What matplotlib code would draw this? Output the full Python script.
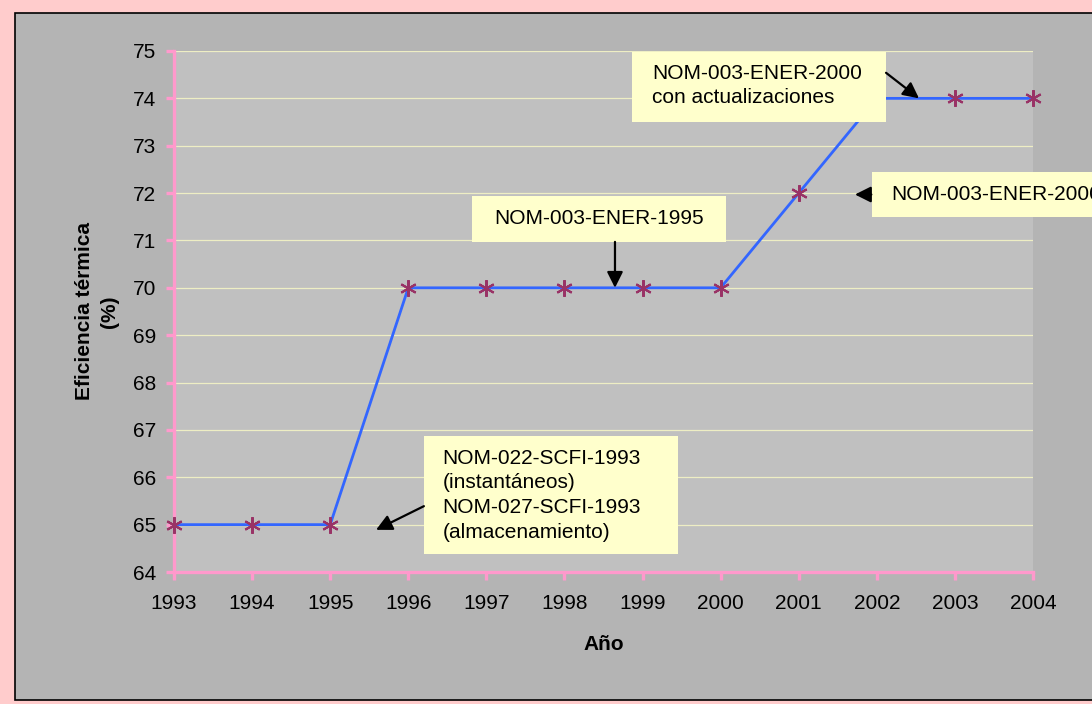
import matplotlib
matplotlib.use("Agg")
import matplotlib.pyplot as plt
from matplotlib.patches import Rectangle

plt.rcParams['font.family'] = ['Liberation Sans', 'DejaVu Sans']

years = [1993, 1994, 1995, 1996, 1997, 1998, 1999, 2000, 2001, 2002, 2003, 2004]
eficiencia = [65, 65, 65, 70, 70, 70, 70, 70, 72, 74, 74, 74]
y_ticks = list(range(64, 76))

# callouts: text, box (x0, y0, x1, y1), text anchor, arrow tail, arrow tip
callouts = [
    ("NOM-003-ENER-2000\ncon actualizaciones", (1998.865, 73.50, 2002.118, 74.98),
     (1999.12, 74.27, 'left'), (2002.118, 74.54), (2002.54, 74.0)),
    ("NOM-003-ENER-1995", (1996.816, 70.97, 2000.069, 71.94),
     (1998.44, 71.47, 'center'), (1998.647, 70.97), (1998.647, 70.0)),
    ("NOM-022-SCFI-1993\n(instantáneos)\nNOM-027-SCFI-1993\n(almacenamiento)",
     (1996.20, 64.38, 1999.45, 66.87),
     (1996.44, 65.62, 'left'), (1996.20, 65.39), (1995.587, 64.89)),
    ("NOM-003-ENER-2000", (2001.94, 71.50, 2004.95, 72.45),
     (2002.19, 71.97, 'left'), (2001.93, 71.97), (2001.72, 71.97)),
]

fig = plt.figure(figsize=(10.92, 7.04), dpi=100)
fig.patch.set_facecolor('#ffcccc')
# grey chart area with a dark frame (runs off the right edge)
fig.patches.append(Rectangle((15 / 1092, 4 / 704), 1.1, 687 / 704,
                             transform=fig.transFigure, facecolor='#b4b4b4',
                             edgecolor='black', lw=1.2, zorder=-5))

ax = fig.add_axes([174 / 1092, 132 / 704, 859 / 1092, 521 / 704])
ax.set_facecolor('#c0c0c0')

ax.plot(years, eficiencia, color='#3366ff', lw=2, zorder=3)
ax.plot(years, eficiencia, ls='none', marker=(6, 2, 0), ms=12, mew=1.5,
        color='#993366', zorder=4, clip_on=False)

ax.set_xlim(1993, 2004)
ax.set_ylim(64, 75)
ax.set_xticks(years)
ax.set_yticks(y_ticks)
ax.yaxis.grid(True, color='#eeeec4', lw=0.9)
ax.set_axisbelow(True)

for side in ('top', 'right'):
    ax.spines[side].set_visible(False)
for side in ('left', 'bottom'):
    ax.spines[side].set_color('#ff99cc')
    ax.spines[side].set_linewidth(2.4)
ax.tick_params(axis='both', colors='#ff99cc', width=2.4, length=6,
               labelcolor='black', labelsize=15)
ax.tick_params(axis='y', pad=7)
ax.tick_params(axis='x', pad=10)

ax.set_xlabel('Año', fontsize=15, fontweight='bold', labelpad=16)
ax.set_ylabel('Eficiencia térmica\n(%)', fontsize=15, fontweight='bold',
              labelpad=10, linespacing=1.35)

for text, (x0, y0, x1, y1), (tx, ty, ha), tail, tip in callouts:
    ax.add_patch(Rectangle((x0, y0), x1 - x0, y1 - y0, facecolor='#ffffcc',
                           edgecolor='none', zorder=5, clip_on=False))
    ax.text(tx, ty, text, ha=ha, va='center', fontsize=15, linespacing=1.38,
            zorder=6, clip_on=False)
    ax.annotate('', xy=tip, xytext=tail,
                arrowprops=dict(arrowstyle='-|>', color='black', lw=1.6,
                                mutation_scale=24, shrinkA=0, shrinkB=0),
                zorder=6, annotation_clip=False)

fig.savefig('out.png', dpi=100, facecolor=fig.get_facecolor())
